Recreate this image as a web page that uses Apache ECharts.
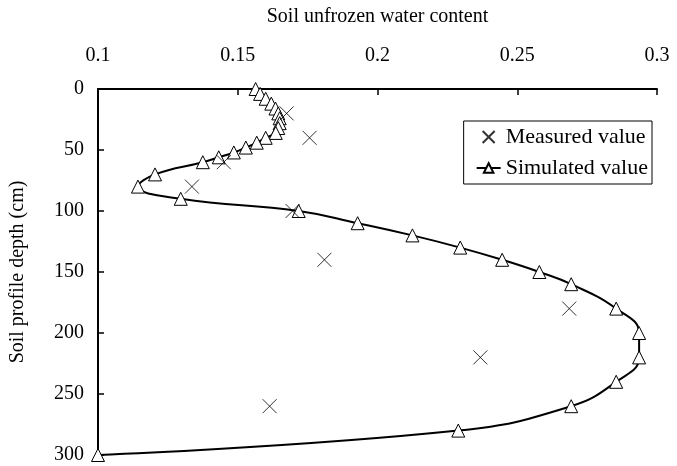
<!DOCTYPE html>
<html>
<head>
<meta charset="utf-8">
<script src="https://cdn.jsdelivr.net/npm/echarts@6/dist/echarts.min.js"></script>
<style>
  html, body { margin: 0; padding: 0; background: #fff; }
  #main { width: 677px; height: 466px; }
</style>
</head>
<body>
<div id="main"></div>
<script>
  // depth (cm) and water content
  var simDepth = [0, 4, 8, 12, 16, 20, 24, 28, 32, 36, 40, 44, 48, 52, 56, 60,
                  70, 80, 90, 100, 110, 120, 130, 140, 150, 160, 180, 200, 220, 240, 260, 280, 300];
  var simValue = [0.1564, 0.158, 0.160, 0.162, 0.1635, 0.1645, 0.165, 0.165, 0.1645, 0.1636, 0.160, 0.1568, 0.1529, 0.1486, 0.1432, 0.1375,
                  0.1204, 0.1143, 0.1296, 0.1718, 0.1929, 0.2125, 0.2296, 0.2446, 0.2579, 0.2693, 0.2854, 0.2936, 0.2936, 0.2854, 0.2693, 0.2289, 0.1];
  var measDepth = [20, 40, 60, 80, 100, 140, 180, 220, 260];
  var measValue = [0.1675, 0.1757, 0.145, 0.1336, 0.1696, 0.181, 0.2686, 0.2368, 0.1614];

  var font = 'Liberation Serif';
  var crossPath = 'path://M0,0L10,10M10,0L0,10';

  var chart = echarts.init(document.getElementById('main'));
  chart.setOption({
    animation: false,
    textStyle: { fontFamily: font, color: '#000' },
    grid: { left: 95, right: 20, top: 89, bottom: 11 },
    legend: {
      orient: 'vertical',
      right: 25,
      top: 121,
      padding: [5, 4, 5, 12],
      itemGap: 9,
      itemWidth: 24,
      itemHeight: 12,
      borderColor: '#000',
      borderWidth: 1,
      textStyle: { fontFamily: font, fontSize: 22, color: '#000' },
      data: ['Measured value', 'Simulated value']
    },
    xAxis: {
      type: 'value',
      position: 'top',
      min: 0.1,
      max: 0.3,
      interval: 0.05,
      name: 'Soil unfrozen water content',
      nameLocation: 'middle',
      nameGap: 62,
      nameTextStyle: { fontFamily: font, fontSize: 20, color: '#000' },
      axisLine: { show: true, lineStyle: { color: '#000', width: 2 } },
      axisTick: { show: true, inside: true, length: 6, lineStyle: { color: '#000', width: 1.5 } },
      axisLabel: { fontFamily: font, fontSize: 20, color: '#000', margin: 23 },
      splitLine: { show: false }
    },
    yAxis: {
      type: 'value',
      inverse: true,
      min: 0,
      max: 300,
      interval: 50,
      name: 'Soil profile depth (cm)',
      nameLocation: 'middle',
      nameGap: 70,
      nameTextStyle: { fontFamily: font, fontSize: 20, color: '#000' },
      axisLine: { show: true, lineStyle: { color: '#000', width: 2 } },
      axisTick: { show: true, inside: true, length: 6, lineStyle: { color: '#000', width: 1.5 } },
      axisLabel: { fontFamily: font, fontSize: 20, color: '#000', margin: 14 },
      splitLine: { show: false }
    },
    series: [
      {
        name: 'Measured value',
        type: 'scatter',
        symbol: crossPath,
        symbolSize: 14,
        itemStyle: { color: 'none', borderColor: '#000', borderWidth: 1 },
        data: measDepth.map(function (d, i) { return [measValue[i], d]; }),
        z: 3
      },
      {
        name: 'Simulated value',
        type: 'line',
        smooth: 0.45,
        symbol: 'triangle',
        symbolSize: 13,
        showAllSymbol: true,
        lineStyle: { color: '#000', width: 2 },
        itemStyle: { color: '#fff', borderColor: '#000', borderWidth: 1 },
        data: simDepth.map(function (d, i) { return [simValue[i], d]; }),
        z: 2
      }
    ]
  });
</script>
</body>
</html>
